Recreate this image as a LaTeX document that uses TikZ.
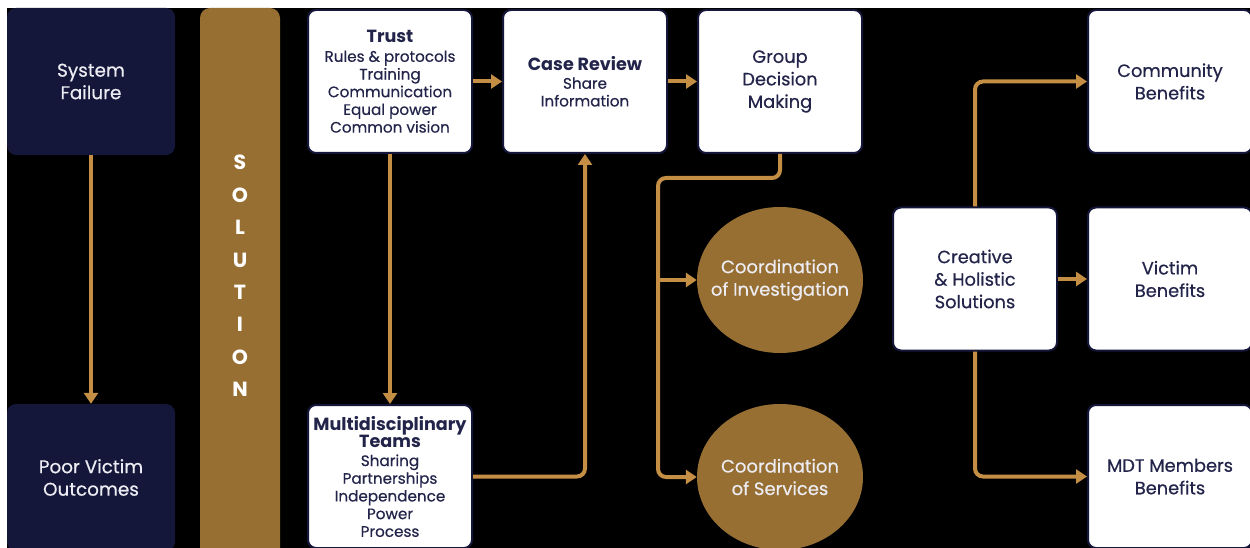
\documentclass[tikz,border=0pt]{standalone}
\usepackage{fontspec}
\setmainfont{Poppins}[UprightFeatures={FakeBold=0.5}]
\usetikzlibrary{arrows.meta,shapes.geometric}
\definecolor{navy}{HTML}{14163A}
\definecolor{ink}{HTML}{23244A}
\definecolor{gold}{HTML}{C48F45}
\definecolor{bronze}{HTML}{976F33}
\definecolor{paleink}{HTML}{ECECF2}
\newcommand{\headline}[1]{{\bfseries\fontsize{17.6}{18}\selectfont #1}}

\begin{document}
\begin{tikzpicture}[x=1pt,y=-1pt,
  darkbox/.style={fill=navy, rounded corners=9pt, minimum width=168pt,
    minimum height=147pt, inner sep=0pt, text=paleink, align=center,
    font=\fontsize{18.4}{22.5}\selectfont},
  card/.style={fill=white, draw=navy, line width=2pt, rounded corners=8pt,
    minimum width=164pt, minimum height=143pt, inner sep=0pt, text=ink,
    align=center, font=\fontsize{17.8}{22.5}\selectfont},
  listcard/.style={card, font=\fontsize{15.2}{17.7}\selectfont},
  disc/.style={ellipse, fill=bronze, minimum width=166pt, minimum height=146pt,
    inner sep=0pt},
  disctext/.style={text=paleink, align=center, inner sep=0pt,
    font=\fontsize{18}{22.5}\selectfont},
  flow/.style={draw=gold, line width=4pt, rounded corners=8pt,
    -{Triangle[length=11pt,width=14pt]}}
]
\useasboundingbox (0,0) rectangle (1250,548);
\fill[white] (0,0) rectangle (1250,548);
\clip (0,0) rectangle (1250,548);
\fill[black] (7,8) rectangle (1250,548);

% problem column
\node[darkbox] (failure) at (91,81.5) {System\\Failure};
\node[darkbox] (outcomes) at (91,477.5) {Poor Victim\\Outcomes};

% solution bar
\fill[bronze, rounded corners=10pt] (200,8) rectangle (280,570);
\node[text=white, align=center, inner sep=0pt,
  font=\bfseries\fontsize{20.5}{32.4}\selectfont] (solution) at (240,276)
  {S\\O\\L\\U\\T\\I\\O\\N};

% process cards
\node[listcard] (trust) at (390,81.5)
  {\headline{Trust}\\[1.5pt]
   Rules \& protocols\\Training\\Communication\\Equal power\\Common vision};
\node[listcard] (teams) at (390,476.5)
  {\headline{Multidisciplinary}\\\headline{Teams}\\[0.5pt]
   Sharing\\Partnerships\\Independence\\Power\\Process};
\node[listcard] (review) at (585,81.5)
  {\headline{Case Review}\\[0.5pt]
   Share\\Information};
\node[card] (group) at (780,81.5) {Group\\Decision\\Making};

% coordination outcomes
\node[disc] (investigation) at (780,280) {};
\node[disctext] (investigation-label) at (investigation.center)
  {Coordination\\of Investigation};
\node[disc] (services) at (780,477) {};
\node[disctext] (services-label) at (services.center)
  {Coordination\\of Services};

% benefits
\node[card] (creative) at (975,279) {Creative\\\& Holistic\\Solutions};
\node[card] (community) at (1170,81.5) {Community\\Benefits};
\node[card] (victim) at (1170,279) {Victim\\Benefits};
\node[card] (members) at (1170,476.5) {MDT Members\\Benefits};

\coordinate (split) at (658,178);

% connectors
\draw[flow] (failure.south) -- (outcomes.north);
\draw[flow] (trust.east) -- (review.west);
\draw[flow] (review.east) -- (group.west);
\draw[flow] (trust.south) -- (teams.north);
\draw[flow] (teams.east) -| (review.south);
\draw[flow] (group.south) |- (split) |- (services.west);
\draw[flow] (split |- investigation.west) -- (investigation.west);
\draw[flow] (creative.north) |- (community.west);
\draw[flow] (creative.east) -- (victim.west);
\draw[flow] (creative.south) |- (members.west);
\end{tikzpicture}
\end{document}
